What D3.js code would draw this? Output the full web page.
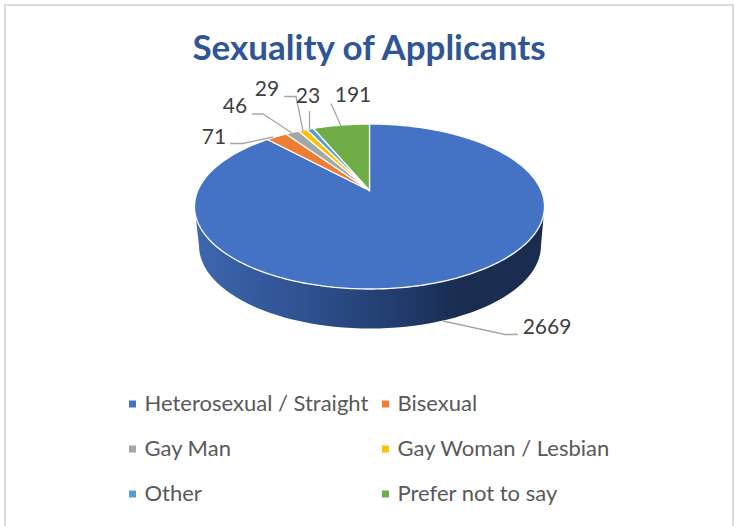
<!DOCTYPE html>
<html>
<head>
<meta charset="utf-8">
<script src="https://cdn.jsdelivr.net/npm/d3@7"></script>
<style>
  html, body { margin: 0; padding: 0; background: #fff; }
  text { font-family: Lato, "Open Sans", sans-serif; }
</style>
</head>
<body>
<div id="chart"></div>
<script>
const categories = ["Heterosexual / Straight", "Bisexual", "Gay Man", "Gay Woman / Lesbian", "Other", "Prefer not to say"];
const values = [2669, 71, 46, 29, 23, 191];
const colors = ["#4472c4", "#ed7d31", "#a5a5a5", "#ffc000", "#5b9bd5", "#70ad47"];
const titleText = "Sexuality of Applicants";

// label anchor, elbow and end of each leader line, same order as values
const labelLayout = [
    { x: 547, y: 327, elbow: [505, 334.5], end: [518, 334.5], from: [443, 321] },
    { x: 214, y: 137, elbow: [243, 143.5], end: [230, 143.5], from: [273, 137] },
    { x: 235, y: 106, elbow: [263, 114], end: [252, 114], from: [292, 133] },
    { x: 267, y: 89, elbow: [296, 96.5], end: [284, 96.5], from: [303, 131] },
    { x: 308, y: 96, elbow: [309.5, 111], end: [309.5, 111], from: [309.5, 129.5] },
    { x: 353, y: 95, elbow: [331, 103.5], end: [331, 103.5], from: [341, 126] }
];

const width = 735, height = 526;

const svg = d3.select("#chart").append("svg")
    .attr("width", width)
    .attr("height", height)
    .style("display", "block");

// frame
svg.append("rect")
    .attr("x", 5).attr("y", 5)
    .attr("width", 728).attr("height", 540)
    .attr("fill", "#fff")
    .attr("stroke", "#dedede")
    .attr("stroke-width", 2);

svg.append("text")
    .attr("x", 369).attr("y", 60)
    .attr("text-anchor", "middle")
    .attr("font-size", 35)
    .attr("font-weight", 700)
    .attr("fill", "#2f5597")
    .text(titleText);

// pie top: the circle seen in perspective, so the hub sits above the ellipse centre
const top_ = { cx: 369.5, cy: 206.5, rx: 175, ry: 82.5, k: 0.194 };
const project = (a) => {
    const x = Math.sin(a), v = -Math.cos(a);
    const w = 1 - top_.k * v;
    return [
        top_.cx + top_.rx * x * Math.sqrt(1 - top_.k * top_.k) / w,
        top_.cy + top_.ry * (v - top_.k) / w
    ];
};

const arcs = d3.pie().sort(null)(values);
const line = d3.line();

// side wall, lower half of the rim down to the smaller bottom ellipse
const bottom = { cx: 370, cy: 245.5, rx: 171, ry: 83 };
const defs = svg.append("defs");
const grad = defs.append("linearGradient")
    .attr("id", "wall")
    .attr("gradientUnits", "userSpaceOnUse")
    .attr("x1", 195).attr("x2", 545).attr("y1", 0).attr("y2", 0);
[[0, "#3d66ae"], [0.3, "#2f5291"], [0.6, "#203a69"], [0.76, "#1a2c50"], [1, "#1a2c50"]].forEach(s => {
    grad.append("stop").attr("offset", s[0]).attr("stop-color", s[1]);
});
const steps = d3.range(0, 181, 3).map(d => d * Math.PI / 180);
const wallPts = steps.map(t => [top_.cx + top_.rx * Math.cos(t), top_.cy + top_.ry * Math.sin(t)])
    .concat(steps.slice().reverse().map(t => [bottom.cx + bottom.rx * Math.cos(t), bottom.cy + bottom.ry * Math.sin(t)]));
svg.append("path")
    .attr("d", line(wallPts) + "Z")
    .attr("fill", "url(#wall)");

// slices
const hub = [top_.cx, top_.cy + top_.ry * -top_.k];
svg.append("g").selectAll("path")
    .data(arcs)
    .join("path")
    .attr("d", d => {
        const n = Math.max(2, Math.ceil((d.endAngle - d.startAngle) * 60));
        const pts = d3.range(n + 1).map(i => project(d.startAngle + (d.endAngle - d.startAngle) * i / n));
        return line([hub].concat(pts)) + "Z";
    })
    .attr("fill", (d, i) => colors[i])
    .attr("stroke", "#fff")
    .attr("stroke-width", 1.3)
    .attr("stroke-linejoin", "round");

// leader lines and value labels
svg.append("g").selectAll("path")
    .data(labelLayout)
    .join("path")
    .attr("d", d => line([d.end, d.elbow, d.from]))
    .attr("fill", "none")
    .attr("stroke", "#a6a6a6")
    .attr("stroke-width", 1.3);

svg.append("g").selectAll("text")
    .data(values)
    .join("text")
    .attr("x", (d, i) => labelLayout[i].x)
    .attr("y", (d, i) => labelLayout[i].y)
    .attr("dy", "0.35em")
    .attr("text-anchor", "middle")
    .attr("font-size", 21)
    .attr("fill", "#404040")
    .text(d => d);

// legend, two columns
const legendX = d3.scalePoint().domain([0, 1]).range([129, 382]);
const legendY = d3.scalePoint().domain([0, 1, 2]).range([404, 494]);
const legend = svg.append("g").selectAll("g")
    .data(categories)
    .join("g")
    .attr("transform", (d, i) => `translate(${legendX(i % 2)},${legendY(Math.floor(i / 2))})`);
legend.append("rect")
    .attr("x", 0).attr("y", -3.5)
    .attr("width", 7).attr("height", 7)
    .attr("fill", (d, i) => colors[i]);
legend.append("text")
    .attr("x", 15.5)
    .attr("dy", "0.3em")
    .attr("font-size", 22)
    .attr("fill", "#595959")
    .text(d => d);
</script>
</body>
</html>
